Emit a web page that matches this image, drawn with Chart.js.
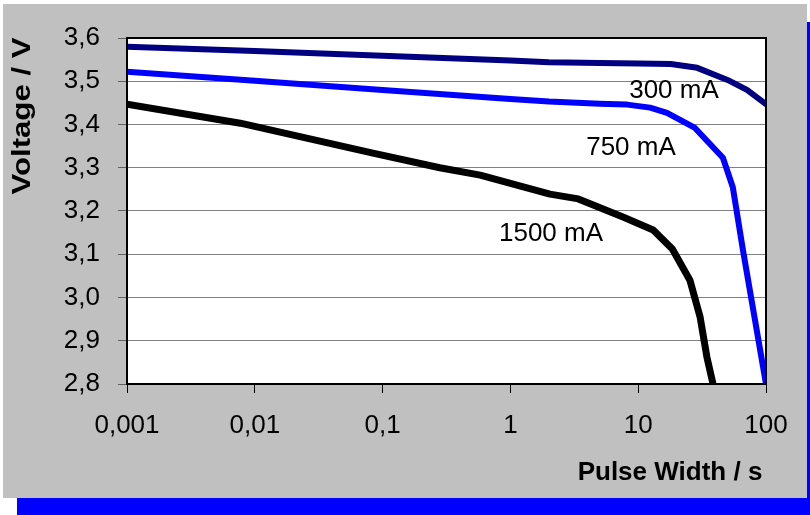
<!DOCTYPE html>
<html>
<head>
    <style>
        body, html {
            margin: 0;
            padding: 0;
            background: #ffffff;
        }
        #chart {
            display: block;
        }
    </style>
    <script src="https://cdn.jsdelivr.net/npm/chart.js"></script>
</head>
<body>
    <canvas id="chart" width="810" height="515"></canvas>

    <script>
        // Tick values and labels
        const xTicks = [0.001, 0.01, 0.1, 1, 10, 100];
        const xTickLabels = ['0,001', '0,01', '0,1', '1', '10', '100'];
        const yTicks = [2.8, 2.9, 3.0, 3.1, 3.2, 3.3, 3.4, 3.5, 3.6];

        // Series
        const seriesNames = ['300 mA', '750 mA', '1500 mA'];

        const pulse300 = [0.001, 0.01, 0.1, 1, 2, 5, 10, 18, 29, 50, 71, 100];
        const volt300 = [3.580, 3.570, 3.559, 3.548, 3.544, 3.542, 3.541, 3.540, 3.531, 3.503, 3.480, 3.447];

        const pulse750 = [0.001, 0.01, 0.1, 1, 2, 5, 8.2, 12.4, 16.8, 27.8, 46, 55, 66, 100];
        const volt750 = [3.522, 3.501, 3.480, 3.459, 3.453, 3.448, 3.446, 3.439, 3.427, 3.392, 3.323, 3.255, 3.110, 2.800];

        const pulse1500 = [0.001, 0.0077, 0.084, 0.28, 0.58, 2.04, 3.4, 7.6, 13.1, 18.5, 25.4, 30.5, 34.5, 38.5];
        const volt1500 = [3.447, 3.403, 3.334, 3.300, 3.283, 3.239, 3.228, 3.186, 3.156, 3.112, 3.040, 2.955, 2.862, 2.800];

        const toPoints = (xs, ys) => xs.map((x, i) => ({ x: x, y: ys[i] }));

        const FONT = "'Liberation Sans', Arial, sans-serif";

        // background: blue drop shadow, grey panel, white plot area
        const backdrop = {
            id: 'backdrop',
            beforeDraw(chart) {
                const ctx = chart.ctx;
                const a = chart.chartArea;
                ctx.save();
                ctx.fillStyle = '#ffffff';
                ctx.fillRect(0, 0, chart.width, chart.height);
                ctx.fillStyle = '#0000ff';
                ctx.fillRect(17, 22, chart.width - 17, chart.height - 22);
                ctx.fillStyle = '#c0c0c0';
                ctx.fillRect(3, 4, 804, 494);
                ctx.fillStyle = '#ffffff';
                ctx.fillRect(a.left, a.top, a.right - a.left, a.bottom - a.top);
                ctx.restore();
            },
            afterDatasetsDraw(chart) {
                const ctx = chart.ctx;
                const a = chart.chartArea;
                ctx.save();
                // frame
                ctx.strokeStyle = '#000000';
                ctx.lineWidth = 2;
                ctx.strokeRect(a.left, a.top, a.right - a.left, a.bottom - a.top);

                // series labels
                ctx.fillStyle = '#000000';
                ctx.font = '26px ' + FONT;
                ctx.textAlign = 'center';
                ctx.textBaseline = 'alphabetic';
                ctx.fillText(seriesNames[0], 674, 98);
                ctx.fillText(seriesNames[1], 631, 155);
                ctx.fillText(seriesNames[2], 551, 241);

                // axis titles
                ctx.font = 'bold 26px ' + FONT;
                ctx.fillText('Pulse Width / s', 670, 480);

                ctx.translate(23, 116);
                ctx.rotate(-Math.PI / 2);
                ctx.scale(1.2, 1);
                ctx.textBaseline = 'middle';
                ctx.fillText('Voltage / V', 0, 0);
                ctx.restore();
            }
        };

        const ctx = document.getElementById('chart').getContext('2d');
        const chart = new Chart(ctx, {
            type: 'line',
            data: {
                datasets: [
                    {
                        label: seriesNames[0],
                        data: toPoints(pulse300, volt300),
                        borderColor: '#000080',
                        borderWidth: 6
                    },
                    {
                        label: seriesNames[1],
                        data: toPoints(pulse750, volt750),
                        borderColor: '#0000ff',
                        borderWidth: 6
                    },
                    {
                        label: seriesNames[2],
                        data: toPoints(pulse1500, volt1500),
                        borderColor: '#000000',
                        borderWidth: 7
                    }
                ]
            },
            options: {
                responsive: false,
                animation: false,
                elements: {
                    point: { radius: 0 },
                    line: {
                        tension: 0,
                        fill: false,
                        borderCapStyle: 'round',
                        borderJoinStyle: 'round'
                    }
                },
                layout: {
                    padding: { top: 38, right: 44, bottom: 0, left: 0 }
                },
                scales: {
                    x: {
                        type: 'logarithmic',
                        min: 0.001,
                        max: 100,
                        afterBuildTicks: (scale) => {
                            scale.ticks = xTicks.map(v => ({ value: v }));
                        },
                        afterFit: (scale) => {
                            scale.height = 131;
                        },
                        ticks: {
                            autoSkip: false,
                            maxRotation: 0,
                            color: '#000000',
                            padding: 17,
                            font: { family: FONT, size: 26 },
                            callback: (v) => xTickLabels[xTicks.indexOf(v)] ?? ''
                        },
                        grid: {
                            drawOnChartArea: false,
                            tickLength: 9,
                            tickColor: '#000000',
                            tickWidth: 1
                        },
                        border: { display: true, color: '#000000', width: 2 }
                    },
                    y: {
                        type: 'linear',
                        min: 2.8,
                        max: 3.6,
                        afterBuildTicks: (scale) => {
                            scale.ticks = yTicks.map(v => ({ value: v }));
                        },
                        afterFit: (scale) => {
                            scale.width = 127;
                        },
                        ticks: {
                            color: '#000000',
                            padding: 18,
                            font: { family: FONT, size: 26 },
                            callback: (v) => v.toFixed(1).replace('.', ',')
                        },
                        grid: {
                            color: '#808080',
                            lineWidth: 1,
                            tickLength: 9,
                            tickColor: '#606060'
                        },
                        border: { display: true, color: '#000000', width: 2 }
                    }
                },
                plugins: {
                    legend: { display: false },
                    tooltip: { enabled: false }
                }
            },
            plugins: [backdrop]
        });
    </script>
</body>
</html>
